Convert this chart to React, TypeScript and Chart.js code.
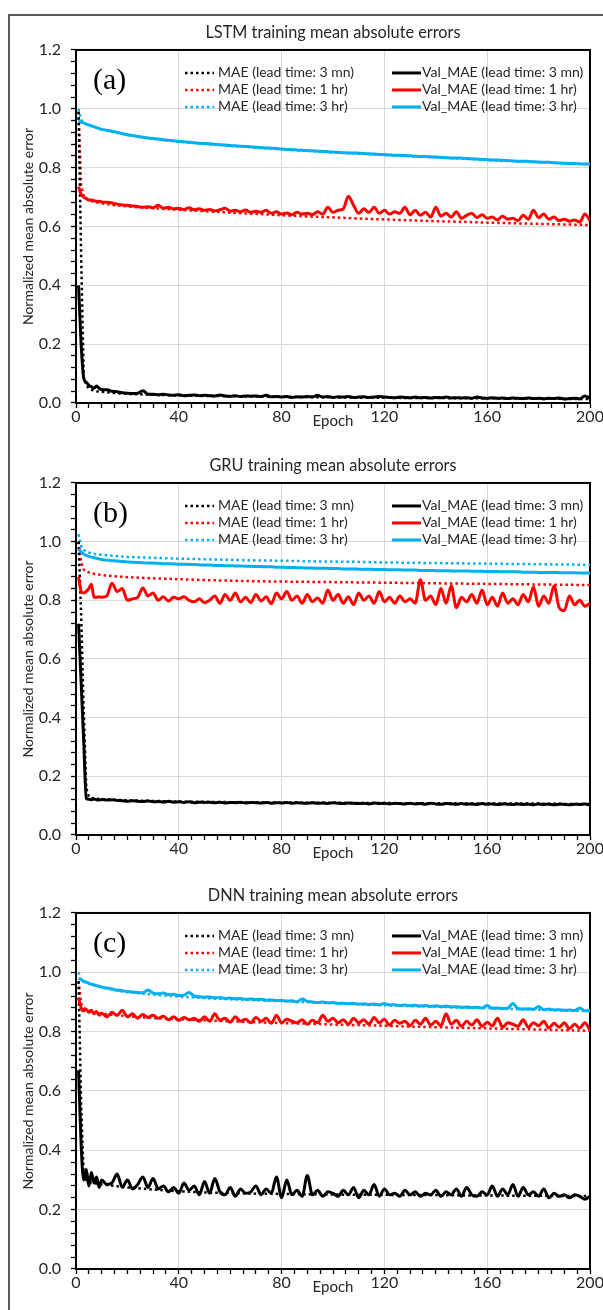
import React, { useEffect, useRef } from 'react';
import { Chart, registerables } from 'chart.js';

Chart.register(...registerables);

// ---------- data ----------
const EPOCHS_VAL = [
  1, 2, 3, 4, 5, 6, 7, 8, 9, 10,
  12, 14, 16, 18, 20, 22, 24, 26, 28, 30,
  32, 34, 36, 38, 40, 42, 44, 46, 48, 50,
  52, 54, 56, 58, 60, 62, 64, 66, 68, 70,
  72, 74, 76, 78, 80, 82, 84, 86, 88, 90,
  92, 94, 96, 98, 100, 102, 104, 106, 108, 110,
  112, 114, 116, 118, 120, 122, 124, 126, 128, 130,
  132, 134, 136, 138, 140, 142, 144, 146, 148, 150,
  152, 154, 156, 158, 160, 162, 164, 166, 168, 170,
  172, 174, 176, 178, 180, 182, 184, 186, 188, 190,
  192, 194, 196, 198, 200,
];

const EPOCHS_TRAIN = [
  1, 2, 3, 4, 5, 6, 8, 10, 15, 20, 30, 40, 50, 60, 70, 80, 90, 100, 110, 120,
  130, 140, 150, 160, 170, 180, 190, 200,
];

const LEGEND_LABELS = [
  'MAE (lead time: 3 mn)',
  'MAE (lead time: 1 hr)',
  'MAE (lead time: 3 hr)',
  'Val_MAE (lead time: 3 mn)',
  'Val_MAE (lead time: 1 hr)',
  'Val_MAE (lead time: 3 hr)',
];
const SERIES_COLORS = ['#000000', '#FF0000', '#00B0F0'];

const PANEL_TITLES = [
  'LSTM training mean absolute errors',
  'GRU training mean absolute errors',
  'DNN training mean absolute errors',
];
const PANEL_TAGS = ['(a)', '(b)', '(c)'];
const X_AXIS_TITLE = 'Epoch';
const Y_AXIS_TITLE = 'Normalized mean absolute error';
const X_MIN = 0, X_MAX = 200, X_MAJOR = 40, X_MINOR = 5;
const Y_MIN = 0, Y_MAX = 1.2, Y_MAJOR = 0.2, Y_MINOR = 0.04;

// ---- LSTM ----
const LSTM_MAE_3MN = [0.99, 0.5, 0.09, 0.06, 0.05, 0.045, 0.04, 0.038, 0.034, 0.031, 0.028, 0.026, 0.024, 0.023, 0.022, 0.021, 0.02, 0.019, 0.018, 0.018, 0.017, 0.017, 0.016, 0.016, 0.015, 0.015, 0.014, 0.014];
const LSTM_MAE_1HR = [0.99, 0.74, 0.705, 0.695, 0.69, 0.686, 0.682, 0.679, 0.672, 0.668, 0.662, 0.657, 0.652, 0.647, 0.643, 0.638, 0.634, 0.631, 0.627, 0.624, 0.621, 0.618, 0.616, 0.613, 0.611, 0.609, 0.607, 0.605];
const LSTM_MAE_3HR = [1.0, 0.962, 0.953, 0.948, 0.945, 0.942, 0.936, 0.93, 0.92, 0.911, 0.898, 0.888, 0.881, 0.874, 0.868, 0.862, 0.857, 0.852, 0.848, 0.843, 0.839, 0.835, 0.831, 0.826, 0.822, 0.819, 0.815, 0.811];
const LSTM_VAL_3MN = [
  0.40, 0.20, 0.085, 0.07, 0.06, 0.055, 0.05, 0.058, 0.05, 0.045,
  0.045, 0.04, 0.038, 0.035, 0.033, 0.032, 0.033, 0.042, 0.03, 0.03,
  0.028, 0.03, 0.027, 0.026, 0.028, 0.025, 0.026, 0.027, 0.025, 0.026,
  0.025, 0.024, 0.027, 0.024, 0.023, 0.025, 0.022, 0.024, 0.023, 0.024,
  0.022, 0.026, 0.021, 0.022, 0.02, 0.022, 0.019, 0.021, 0.02, 0.022,
  0.021, 0.026, 0.02, 0.022, 0.019, 0.021, 0.02, 0.022, 0.019, 0.02,
  0.021, 0.019, 0.02, 0.022, 0.02, 0.019, 0.018, 0.02, 0.019, 0.018,
  0.02, 0.018, 0.019, 0.017, 0.019, 0.018, 0.02, 0.017, 0.018, 0.017,
  0.018, 0.016, 0.02, 0.017, 0.016, 0.018, 0.016, 0.017, 0.015, 0.017,
  0.016, 0.015, 0.017, 0.015, 0.016, 0.014, 0.016, 0.015, 0.017, 0.014,
  0.015, 0.016, 0.014, 0.024, 0.016,
];
const LSTM_VAL_1HR = [
  0.735, 0.71, 0.70, 0.695, 0.69, 0.69, 0.688, 0.685, 0.686, 0.683,
  0.682, 0.68, 0.676, 0.673, 0.672, 0.67, 0.668, 0.665, 0.667, 0.664,
  0.672, 0.662, 0.665, 0.66, 0.662, 0.658, 0.664, 0.657, 0.66, 0.655,
  0.658, 0.653, 0.657, 0.662, 0.652, 0.655, 0.65, 0.656, 0.648, 0.652,
  0.648, 0.655, 0.645, 0.65, 0.642, 0.646, 0.64, 0.648, 0.642, 0.645,
  0.64, 0.65, 0.642, 0.665, 0.648, 0.655, 0.66, 0.703, 0.672, 0.645,
  0.66, 0.648, 0.665, 0.645, 0.655, 0.642, 0.65, 0.645, 0.665, 0.64,
  0.655, 0.638, 0.648, 0.632, 0.665, 0.635, 0.645, 0.632, 0.65, 0.628,
  0.638, 0.645, 0.63, 0.64, 0.628, 0.632, 0.622, 0.635, 0.625, 0.628,
  0.62, 0.638, 0.625, 0.655, 0.63, 0.642, 0.625, 0.632, 0.62, 0.625,
  0.618, 0.622, 0.615, 0.642, 0.62,
];
const LSTM_VAL_3HR = [
  0.96, 0.955, 0.952, 0.948, 0.945, 0.942, 0.939, 0.936, 0.933, 0.93,
  0.927, 0.924, 0.92, 0.916, 0.912, 0.909, 0.906, 0.903, 0.901, 0.899,
  0.897, 0.895, 0.893, 0.891, 0.889, 0.888, 0.886, 0.885, 0.883, 0.882,
  0.881, 0.879, 0.878, 0.877, 0.875, 0.874, 0.873, 0.872, 0.871, 0.869,
  0.868, 0.867, 0.866, 0.865, 0.863, 0.862, 0.861, 0.86, 0.859, 0.858,
  0.857, 0.856, 0.855, 0.854, 0.853, 0.852, 0.851, 0.85, 0.85, 0.849,
  0.848, 0.847, 0.846, 0.845, 0.844, 0.843, 0.842, 0.842, 0.841, 0.84,
  0.839, 0.838, 0.838, 0.837, 0.836, 0.835, 0.834, 0.833, 0.833, 0.832,
  0.831, 0.83, 0.829, 0.828, 0.827, 0.826, 0.826, 0.825, 0.824, 0.823,
  0.822, 0.822, 0.821, 0.82, 0.819, 0.818, 0.818, 0.817, 0.816, 0.815,
  0.814, 0.814, 0.813, 0.812, 0.812,
];

// ---- GRU ----
const GRU_MAE_3MN = [1.0, 0.75, 0.42, 0.16, 0.13, 0.126, 0.124, 0.122, 0.12, 0.118, 0.116, 0.114, 0.113, 0.112, 0.111, 0.111, 0.11, 0.11, 0.109, 0.109, 0.108, 0.108, 0.108, 0.107, 0.107, 0.107, 0.106, 0.106];
const GRU_MAE_1HR = [1.0, 0.93, 0.905, 0.898, 0.895, 0.892, 0.889, 0.886, 0.882, 0.879, 0.875, 0.872, 0.869, 0.867, 0.865, 0.864, 0.863, 0.862, 0.861, 0.86, 0.859, 0.858, 0.857, 0.856, 0.855, 0.854, 0.853, 0.852];
const GRU_MAE_3HR = [1.025, 0.985, 0.972, 0.966, 0.963, 0.96, 0.957, 0.955, 0.951, 0.948, 0.945, 0.942, 0.94, 0.938, 0.936, 0.935, 0.933, 0.932, 0.931, 0.929, 0.928, 0.927, 0.926, 0.925, 0.924, 0.923, 0.922, 0.921];
const GRU_VAL_3MN = [
  0.72, 0.52, 0.32, 0.125, 0.122, 0.12, 0.123, 0.12, 0.119, 0.121,
  0.119, 0.12, 0.118, 0.117, 0.115, 0.117, 0.115, 0.114, 0.116, 0.113,
  0.114, 0.112, 0.115, 0.112, 0.113, 0.111, 0.113, 0.11, 0.112, 0.111,
  0.112, 0.11, 0.112, 0.109, 0.111, 0.11, 0.112, 0.109, 0.111, 0.11,
  0.109, 0.111, 0.108, 0.11, 0.109, 0.111, 0.108, 0.11, 0.109, 0.108,
  0.11, 0.108, 0.109, 0.107, 0.11, 0.108, 0.107, 0.109, 0.108, 0.107,
  0.108, 0.106, 0.109, 0.107, 0.108, 0.106, 0.108, 0.107, 0.106, 0.108,
  0.106, 0.107, 0.105, 0.108, 0.106, 0.105, 0.107, 0.106, 0.105, 0.107,
  0.105, 0.106, 0.104, 0.107, 0.105, 0.106, 0.104, 0.106, 0.105, 0.104,
  0.106, 0.104, 0.105, 0.103, 0.106, 0.104, 0.105, 0.103, 0.105, 0.104,
  0.103, 0.105, 0.104, 0.106, 0.103,
];
const GRU_VAL_1HR = [
  0.88, 0.83, 0.825, 0.83, 0.84, 0.855, 0.81, 0.81, 0.812, 0.81,
  0.815, 0.858, 0.83, 0.84, 0.80, 0.805, 0.81, 0.842, 0.815, 0.825,
  0.80, 0.812, 0.798, 0.81, 0.805, 0.812, 0.80, 0.795, 0.805, 0.792,
  0.80, 0.815, 0.79, 0.82, 0.80, 0.825, 0.795, 0.81, 0.792, 0.82,
  0.798, 0.812, 0.788, 0.825, 0.805, 0.83, 0.80, 0.815, 0.79, 0.82,
  0.795, 0.808, 0.79, 0.835, 0.80, 0.82, 0.79, 0.812, 0.785, 0.825,
  0.80, 0.815, 0.79, 0.83, 0.795, 0.81, 0.79, 0.815, 0.795, 0.805,
  0.79, 0.87, 0.80, 0.815, 0.785, 0.84, 0.79, 0.85, 0.775, 0.81,
  0.795, 0.82, 0.79, 0.835, 0.785, 0.81, 0.78, 0.825, 0.79, 0.805,
  0.785, 0.82, 0.795, 0.845, 0.78, 0.815, 0.79, 0.85, 0.775, 0.765,
  0.815, 0.785, 0.80, 0.78, 0.79,
];
const GRU_VAL_3HR = [
  0.975, 0.965, 0.958, 0.953, 0.95, 0.947, 0.945, 0.943, 0.941, 0.939,
  0.937, 0.935, 0.934, 0.932, 0.931, 0.93, 0.929, 0.928, 0.927, 0.927,
  0.926, 0.925, 0.925, 0.924, 0.923, 0.923, 0.922, 0.922, 0.921, 0.92,
  0.92, 0.919, 0.919, 0.918, 0.918, 0.917, 0.917, 0.916, 0.916, 0.915,
  0.915, 0.914, 0.914, 0.913, 0.913, 0.912, 0.912, 0.911, 0.911, 0.91,
  0.91, 0.909, 0.909, 0.909, 0.908, 0.908, 0.907, 0.907, 0.907, 0.906,
  0.906, 0.906, 0.905, 0.905, 0.905, 0.904, 0.904, 0.904, 0.903, 0.903,
  0.903, 0.902, 0.902, 0.902, 0.901, 0.901, 0.901, 0.9, 0.9, 0.9,
  0.9, 0.899, 0.899, 0.899, 0.898, 0.898, 0.898, 0.897, 0.897, 0.897,
  0.897, 0.896, 0.896, 0.896, 0.895, 0.895, 0.895, 0.895, 0.894, 0.894,
  0.894, 0.894, 0.893, 0.893, 0.893,
];

// ---- DNN ----
const DNN_MAE_3MN = [0.97, 0.55, 0.31, 0.30, 0.295, 0.29, 0.288, 0.285, 0.28, 0.275, 0.268, 0.262, 0.258, 0.256, 0.254, 0.253, 0.252, 0.251, 0.25, 0.25, 0.249, 0.249, 0.248, 0.248, 0.247, 0.247, 0.246, 0.246];
const DNN_MAE_1HR = [0.97, 0.895, 0.88, 0.875, 0.871, 0.868, 0.864, 0.861, 0.856, 0.852, 0.846, 0.842, 0.838, 0.835, 0.832, 0.829, 0.827, 0.824, 0.822, 0.82, 0.817, 0.815, 0.813, 0.811, 0.809, 0.807, 0.805, 0.803];
const DNN_MAE_3HR = [1.0, 0.972, 0.968, 0.965, 0.962, 0.959, 0.954, 0.949, 0.94, 0.933, 0.925, 0.918, 0.913, 0.909, 0.906, 0.903, 0.899, 0.896, 0.892, 0.889, 0.886, 0.884, 0.881, 0.879, 0.876, 0.874, 0.871, 0.869];
const DNN_VAL_3MN = [
  0.67, 0.42, 0.30, 0.335, 0.28, 0.325, 0.29, 0.31, 0.275, 0.30,
  0.285, 0.29, 0.32, 0.275, 0.30, 0.27, 0.285, 0.31, 0.275, 0.305,
  0.27, 0.28, 0.26, 0.275, 0.255, 0.29, 0.265, 0.28, 0.25, 0.295,
  0.255, 0.305, 0.26, 0.25, 0.275, 0.245, 0.27, 0.255, 0.26, 0.28,
  0.25, 0.27, 0.255, 0.31, 0.24, 0.30, 0.25, 0.265, 0.245, 0.315,
  0.25, 0.265, 0.245, 0.26, 0.255, 0.245, 0.265, 0.25, 0.275, 0.24,
  0.265, 0.25, 0.285, 0.245, 0.27, 0.25, 0.255, 0.245, 0.265, 0.25,
  0.26, 0.245, 0.255, 0.25, 0.265, 0.245, 0.26, 0.25, 0.27, 0.245,
  0.275, 0.25, 0.245, 0.26, 0.25, 0.28, 0.245, 0.27, 0.25, 0.285,
  0.245, 0.275, 0.25, 0.26, 0.245, 0.27, 0.24, 0.255, 0.245, 0.25,
  0.24, 0.25, 0.245, 0.235, 0.245,
];
const DNN_VAL_1HR = [
  0.915, 0.88, 0.87, 0.875, 0.865, 0.872, 0.86, 0.868, 0.855, 0.862,
  0.85, 0.865, 0.855, 0.872, 0.85, 0.86, 0.845, 0.858, 0.848, 0.855,
  0.845, 0.852, 0.84, 0.85, 0.838, 0.848, 0.84, 0.845, 0.835, 0.85,
  0.835, 0.86, 0.838, 0.845, 0.832, 0.85, 0.835, 0.842, 0.83, 0.848,
  0.835, 0.845, 0.828, 0.855, 0.83, 0.842, 0.835, 0.83, 0.84, 0.825,
  0.838, 0.83, 0.855, 0.835, 0.845, 0.83, 0.84, 0.825, 0.845, 0.83,
  0.84, 0.825, 0.848, 0.83, 0.842, 0.822, 0.838, 0.828, 0.835, 0.82,
  0.838, 0.825, 0.845, 0.822, 0.835, 0.82, 0.86, 0.825, 0.838, 0.818,
  0.835, 0.822, 0.84, 0.818, 0.832, 0.82, 0.845, 0.815, 0.83, 0.825,
  0.818, 0.84, 0.815, 0.83, 0.82, 0.835, 0.812, 0.828, 0.815, 0.83,
  0.81, 0.825, 0.812, 0.83, 0.805,
];
const DNN_VAL_3HR = [
  0.98, 0.975, 0.97, 0.967, 0.963, 0.96, 0.958, 0.955, 0.953, 0.95,
  0.947, 0.944, 0.94, 0.938, 0.935, 0.934, 0.932, 0.931, 0.94, 0.93,
  0.928, 0.93, 0.925, 0.926, 0.922, 0.923, 0.932, 0.92, 0.918, 0.916,
  0.917, 0.914, 0.915, 0.912, 0.913, 0.911, 0.912, 0.909, 0.91, 0.908,
  0.909, 0.906, 0.907, 0.905, 0.905, 0.903, 0.904, 0.9, 0.91, 0.902,
  0.9, 0.898, 0.9, 0.897, 0.898, 0.895, 0.896, 0.894, 0.895, 0.893,
  0.894, 0.891, 0.893, 0.89, 0.895, 0.89, 0.891, 0.888, 0.89, 0.887,
  0.889, 0.886, 0.888, 0.885, 0.887, 0.884, 0.886, 0.883, 0.884, 0.882,
  0.883, 0.881, 0.882, 0.88, 0.888, 0.879, 0.88, 0.878, 0.879, 0.895,
  0.878, 0.876, 0.877, 0.875, 0.885, 0.874, 0.876, 0.873, 0.874, 0.872,
  0.873, 0.871, 0.88, 0.87, 0.872,
];

const PANEL_TRAIN = [
  [LSTM_MAE_3MN, LSTM_MAE_1HR, LSTM_MAE_3HR],
  [GRU_MAE_3MN, GRU_MAE_1HR, GRU_MAE_3HR],
  [DNN_MAE_3MN, DNN_MAE_1HR, DNN_MAE_3HR],
];
const PANEL_VAL = [
  [LSTM_VAL_3MN, LSTM_VAL_1HR, LSTM_VAL_3HR],
  [GRU_VAL_3MN, GRU_VAL_1HR, GRU_VAL_3HR],
  [DNN_VAL_3MN, DNN_VAL_1HR, DNN_VAL_3HR],
];

// ---------- styling ----------
const FONT = 'Lato, "Open Sans", sans-serif';
const TEXT = '#262626';
const GRID = '#D9D9D9';
const DOT_DASH = [2.5, 3];

const isMultiple = (v: number, step: number) => Math.abs(v / step - Math.round(v / step)) < 1e-6;

const panelDecor = {
  id: 'panelDecor',
  beforeDatasetsDraw(chart: any) {
    const { ctx, chartArea: a } = chart;
    ctx.save();
    ctx.strokeStyle = '#000';
    ctx.lineWidth = 2;
    ctx.strokeRect(a.left, a.top, a.right - a.left, a.bottom - a.top);
    ctx.restore();
  },
  afterDraw(chart: any, _args: any, opts: any) {
    const { ctx, chartArea: a } = chart;
    const ds = chart.data.datasets;
    ctx.save();
    ctx.font = `14px ${FONT}`;
    ctx.textBaseline = 'middle';
    ctx.textAlign = 'left';
    const rows = [23, 40, 57];
    for (let r = 0; r < 3; r++) {
      const y = a.top + rows[r];
      // left column: training (dotted)
      const d1 = ds[r];
      ctx.strokeStyle = d1.borderColor;
      ctx.lineWidth = d1.borderWidth;
      ctx.setLineDash(d1.borderDash || []);
      ctx.beginPath();
      ctx.moveTo(a.left + 109, y);
      ctx.lineTo(a.left + 138, y);
      ctx.stroke();
      ctx.setLineDash([]);
      ctx.fillStyle = TEXT;
      ctx.fillText(d1.label, a.left + 142, y);
      // right column: validation (solid)
      const d2 = ds[r + 3];
      ctx.strokeStyle = d2.borderColor;
      ctx.lineWidth = d2.borderWidth;
      ctx.beginPath();
      ctx.moveTo(a.left + 316, y);
      ctx.lineTo(a.left + 345, y);
      ctx.stroke();
      ctx.fillStyle = TEXT;
      ctx.fillText(d2.label, a.left + 346, y);
    }
    ctx.font = `30px "Liberation Serif", "Times New Roman", serif`;
    ctx.fillStyle = '#000';
    ctx.fillText(opts.tag, a.left + 17, a.top + 31);
    ctx.restore();
  },
};

function Panel({ index, top, plotH }: { index: number; top: number; plotH: number }) {
  const ref = useRef<HTMLCanvasElement>(null);
  const height = 35 + plotH + 40;
  useEffect(() => {
    const train = PANEL_TRAIN[index];
    const val = PANEL_VAL[index];
    const datasets: any[] = [];
    for (let i = 0; i < 3; i++) {
      datasets.push({
        label: LEGEND_LABELS[i],
        data: EPOCHS_TRAIN.map((x, j) => ({ x, y: train[i][j] })),
        borderColor: SERIES_COLORS[i],
        backgroundColor: SERIES_COLORS[i],
        borderWidth: 2.5,
        borderDash: DOT_DASH,
        pointRadius: 0,
        fill: false,
        order: 1,
      });
    }
    for (let i = 0; i < 3; i++) {
      datasets.push({
        label: LEGEND_LABELS[i + 3],
        data: EPOCHS_VAL.map((x, j) => ({ x, y: val[i][j] })),
        borderColor: SERIES_COLORS[i],
        backgroundColor: SERIES_COLORS[i],
        borderWidth: 3,
        pointRadius: 0,
        fill: false,
        cubicInterpolationMode: 'monotone',
        order: 0,
      });
    }
    const chart = new Chart(ref.current as HTMLCanvasElement, {
      type: 'line',
      data: { datasets },
      plugins: [panelDecor],
      options: {
        animation: false,
        responsive: false,
        layout: { padding: { left: 0, right: 13, top: 0, bottom: 0 } },
        plugins: {
          legend: { display: false },
          tooltip: { enabled: false },
          title: {
            display: true,
            text: PANEL_TITLES[index],
            fullSize: false,
            color: TEXT,
            font: { family: FONT, size: 16.3, weight: 'normal', lineHeight: 1.2 },
            padding: { top: 7.5, bottom: 7.9 },
          },
          panelDecor: { tag: PANEL_TAGS[index] },
        } as any,
        scales: {
          x: {
            type: 'linear',
            min: X_MIN,
            max: X_MAX,
            afterFit: (s: any) => { s.height = 40; },
            ticks: {
              stepSize: X_MINOR,
              autoSkip: false,
              maxRotation: 0,
              padding: -1,
              color: TEXT,
              font: { family: FONT, size: 16 },
              callback: (v: any) => (isMultiple(v, X_MAJOR) ? String(v) : ''),
            },
            grid: {
              color: (c: any) => (c.tick && isMultiple(c.tick.value, X_MAJOR) ? GRID : 'rgba(0,0,0,0)'),
              tickColor: '#000',
              tickLength: 5,
              tickWidth: 1.3,
              lineWidth: 1,
            },
            border: { color: '#000', width: 2 },
            title: {
              display: true,
              text: X_AXIS_TITLE,
              color: TEXT,
              font: { family: FONT, size: 15 },
              padding: { top: 0, bottom: 13 },
            },
          },
          y: {
            type: 'linear',
            min: Y_MIN,
            max: Y_MAX,
            afterFit: (s: any) => { s.width = 76; },
            ticks: {
              stepSize: Y_MINOR,
              autoSkip: false,
              maxTicksLimit: 100,
              padding: 10,
              color: TEXT,
              font: { family: FONT, size: 16 },
              callback: (v: any) => (isMultiple(v, Y_MAJOR) ? Number(v).toFixed(1) : ''),
            },
            grid: {
              color: (c: any) => (c.tick && isMultiple(c.tick.value, Y_MAJOR) ? GRID : 'rgba(0,0,0,0)'),
              tickColor: '#000',
              tickLength: 5,
              tickWidth: 1.3,
              lineWidth: 1,
            },
            border: { color: '#000', width: 2 },
            title: {
              display: true,
              text: Y_AXIS_TITLE,
              color: TEXT,
              font: { family: FONT, size: 14 },
              padding: { top: 20, bottom: 0 },
            },
          },
        },
      } as any,
    });
    return () => chart.destroy();
  }, [index]);
  return (
    <canvas
      ref={ref}
      width={603}
      height={height}
      style={{ position: 'absolute', left: 0, top, width: 603, height }}
    />
  );
}

export default function App() {
  return (
    <div
      style={{
        position: 'absolute',
        left: 0,
        top: 0,
        width: 603,
        height: 1310,
        overflow: 'hidden',
        background: '#fff',
      }}
    >
      <div
        style={{
          position: 'absolute',
          left: 8,
          top: 14,
          width: 700,
          height: 1400,
          border: '2px solid #595959',
          boxSizing: 'border-box',
        }}
      />
      <Panel index={0} top={15} plotH={353} />
      <Panel index={1} top={448} plotH={352} />
      <Panel index={2} top={878} plotH={356} />
    </div>
  );
}
